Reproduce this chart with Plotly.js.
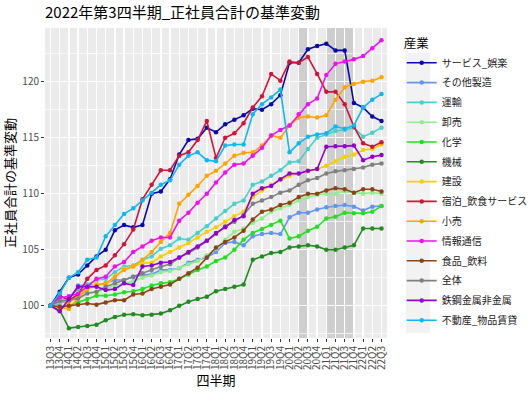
<!DOCTYPE html>
<html>
<head>
<meta charset="utf-8">
<script src="https://cdn.plot.ly/plotly-3.0.1.min.js"></script>
<style>
html,body{margin:0;padding:0;background:#fff;}
#chart{width:528px;height:396px;}
</style>
</head>
<body>
<div id="chart"></div>
<script>
// ---- data ----
const quarters = ["13Q3","13Q4","14Q1","14Q2","14Q3","14Q4","15Q1","15Q2","15Q3","15Q4",
  "16Q1","16Q2","16Q3","16Q4","17Q1","17Q2","17Q3","17Q4","18Q1","18Q2","18Q3","18Q4",
  "19Q1","19Q2","19Q3","19Q4","20Q1","20Q2","20Q3","20Q4","21Q1","21Q2","21Q3","21Q4",
  "22Q1","22Q2","22Q3"];

const seriesNames = ["サービス_娯楽","その他製造","運輸","卸売","化学","機械","建設",
  "宿泊_飲食サービス","小売","情報通信","食品_飲料","全体","鉄鋼金属非金属","不動産_物品賃貸"];

const service = [100,101.25,102.5,102.8,103.6,104.4,105.0,106.75,107.2,107.0,107.2,110.0,110.2,111.3,113.5,114.8,114.9,115.9,115.5,116.2,116.6,117.0,117.6,117.5,118.0,118.8,121.7,121.7,122.9,123.2,123.4,122.8,122.8,118.1,117.7,116.9,116.5];
const otherMfg = [100,100.2,100.5,101.8,101.85,101.85,102.0,102.3,102.3,102.6,102.75,102.8,103.2,103.2,103.35,103.85,104.1,104.3,104.8,105.6,105.7,105.4,106.2,106.4,106.5,106.4,107.9,108.3,108.3,108.6,108.8,108.9,109.0,108.85,108.5,108.85,108.9];
const transport = [100,100.4,100.8,101.5,101.9,102.3,102.4,103.0,103.5,103.6,104.1,104.4,105.1,105.4,106.0,105.9,106.5,107.1,107.8,108.45,109.1,109.4,110.8,111.1,111.6,112.1,112.8,112.9,114.0,115.0,115.3,115.6,115.7,115.9,115.1,115.45,115.9];
const wholesale = [100,100.3,100.5,100.9,101.2,101.2,101.5,101.8,102.0,102.2,102.5,102.7,103.0,103.1,103.4,103.7,104.0,104.5,105.1,105.9,106.6,106.9,107.4,107.8,108.4,108.7,109.0,109.4,109.7,109.9,110.0,110.0,110.2,110.1,110.0,110.1,110.0];
const chemical = [100,99.9,100.0,100.3,100.6,100.9,100.9,101.0,101.2,101.3,101.5,101.8,102.0,102.1,102.4,102.8,103.2,103.5,104.0,104.3,105.0,105.9,106.5,106.85,107.2,107.6,106.0,106.2,106.7,107.05,107.8,107.95,108.3,108.25,108.25,108.4,108.9];
const machinery = [100,99.6,98.0,98.1,98.2,98.3,98.7,99.0,99.2,99.25,99.15,99.2,99.3,99.6,100.0,100.35,100.6,100.8,101.3,101.5,101.7,101.9,104.1,104.4,104.7,104.8,105.2,105.3,105.4,105.3,105.0,105.0,105.2,105.4,106.9,106.9,106.9];
const construction = [100,99.8,100.2,101.0,101.5,102.0,101.85,102.6,103.3,103.5,103.8,103.85,104.4,104.8,105.2,105.6,106.1,106.6,107.0,107.5,108.0,108.4,109.7,110.3,110.8,111.2,111.6,111.8,112.0,112.2,112.5,112.9,113.3,113.5,113.9,114.0,114.4];
const lodging = [100,100.9,100.5,101.0,102.4,103.2,103.6,104.5,105.5,106.8,109.5,110.8,112.1,112.1,113.4,113.7,114.8,116.5,113.2,115.0,115.4,116.3,117.7,118.7,120.7,120.1,121.8,121.7,122.2,120.7,119.1,119.1,118.0,116.0,114.5,114.2,114.6];
const retail = [100,99.9,99.7,100.7,101.5,101.8,102.0,102.6,103.2,103.5,104.1,104.8,105.7,106.5,109.1,109.9,110.7,111.6,112.05,112.7,113.4,113.65,113.7,114.3,115.2,115.0,116.1,116.8,116.9,116.8,117.0,118.4,119.5,119.8,120.0,120.1,120.4];
const infoComm = [100,100.7,100.85,101.1,101.7,102.4,102.6,103.5,103.9,104.8,105.3,105.8,106.1,106.1,107.6,108.3,109.2,110.0,111.0,111.9,112.6,112.7,113.4,114.1,115.2,115.7,116.1,117.1,118.0,118.5,120.6,121.6,121.8,122.0,122.3,123.0,123.7];
const food = [100,99.9,100.0,100.1,100.2,100.1,100.3,100.5,100.5,101.0,101.1,101.5,101.7,101.9,102.4,102.9,103.4,104.3,105.2,105.7,106.1,106.7,107.7,108.4,108.6,109.0,109.2,109.7,110.0,110.0,110.3,110.5,110.4,110.1,110.4,110.4,110.2];
const total = [100,100.4,100.5,100.65,101.1,101.25,101.7,102.0,102.3,102.6,102.9,103.2,103.5,103.7,104.3,104.7,105.2,105.8,106.4,107.1,107.5,108.1,109.1,109.4,109.7,110.1,110.3,110.8,111.2,111.4,111.8,112.0,112.1,112.2,112.35,112.6,112.7];
const steel = [100,99.5,100.6,101.7,101.7,101.7,101.4,101.5,102.0,101.85,103.5,103.6,103.85,103.9,104.3,104.8,105.3,105.8,106.5,107.0,107.65,108.0,110.0,110.5,110.7,111.3,111.8,111.8,112.05,112.2,114.2,114.25,114.25,114.3,113.0,113.3,113.45];
const realEstate = [100,101.1,102.5,103.0,104.1,104.3,106.2,107.2,108.2,108.7,109.4,110.1,110.8,111.2,112.6,113.4,113.7,113.0,112.9,114.3,114.4,114.4,117.1,118.0,118.6,119.3,113.7,114.5,115.1,115.3,115.4,116.0,115.8,116.1,117.7,118.4,118.9];

const yTicks = [100,105,110,115,120];
const yMinorTicks = [97.5,102.5,107.5,112.5,117.5,122.5];
const shadeStart = ["20Q2","21Q1"];
const shadeEnd = ["20Q3","21Q4"];

// ---- styles ----
const allSeries = [service,otherMfg,transport,wholesale,chemical,machinery,construction,
  lodging,retail,infoComm,food,total,steel,realEstate];
const colors = ["#0A0AA8","#6495ED","#48D1CC","#90EE90","#22E022","#228B22","#F5D000",
  "#D0143C","#FFA500","#F010F0","#8B4513","#808080","#9400D3","#10B8F0"];
const FONT = "Noto Sans CJK JP, sans-serif";

const traces = allSeries.map((vals,k)=>({
  type:"scatter", mode:"lines+markers",
  x: quarters, y: vals, name: seriesNames[k], legendgroup: "g"+k,
  line:{color:colors[k], width:1.6},
  marker:{color:colors[k], size:4.5}
}));

const shapes = shadeStart.map((s,k)=>({
  type:"rect", xref:"x", yref:"paper",
  x0: quarters.indexOf(s), x1: quarters.indexOf(shadeEnd[k]),
  y0:0, y1:1, fillcolor:"rgba(0,0,0,0.12)", line:{width:0}, layer:"between"
}));
// light key background column behind the legend symbols (ggplot legend keys)
shapes.push({type:"rect", xref:"paper", yref:"paper",
  x0:(406-45)/342, x1:(430-45)/342, y0:(338-333)/310, y1:(338-53)/310,
  fillcolor:"#F2F2F2", line:{width:0}, layer:"below"});

const layout = {
  width:528, height:396,
  font:{family:FONT, color:"#1a1a1a"},
  paper_bgcolor:"#ffffff", plot_bgcolor:"#EBEBEB",
  margin:{l:45, r:141, t:28, b:58, pad:0, autoexpand:false},
  title:{text:"2022年第3四半期_正社員合計の基準変動", font:{size:15, family:FONT, color:"#000"},
    xref:"container", x:45/528, xanchor:"left", yref:"container", y:1-7/396, yanchor:"top"},
  xaxis:{type:"category", categoryorder:"array", categoryarray:quarters,
    tickmode:"array", tickvals:quarters, ticktext:quarters,
    range:[-0.6, quarters.length-1+0.6], showgrid:true, gridcolor:"#ffffff", gridwidth:1.4,
    zeroline:false, showline:false, ticks:"outside", ticklen:3, tickcolor:"#333333", tickwidth:1,
    tickangle:-90, tickfont:{size:10, color:"#4D4D4D", family:FONT},
    title:{text:"四半期", font:{size:13, color:"#000", family:FONT}, standoff:3}},
  yaxis:{range:[97.12, 124.8], tickvals:yTicks, ticktext:yTicks.map(String),
    showgrid:true, gridcolor:"#ffffff", gridwidth:1.4, zeroline:false, showline:false,
    ticks:"outside", ticklen:3, tickcolor:"#333333", tickwidth:1,
    tickfont:{size:10, color:"#4D4D4D", family:FONT},
    minor:{tickvals:yMinorTicks, showgrid:true, gridcolor:"#ffffff", gridwidth:0.7, ticks:""},
    title:{text:"正社員合計の基準変動", font:{size:13, color:"#000", family:FONT}, standoff:6}},
  legend:{x:1.043, xanchor:"left", y:0.987, yanchor:"top", bgcolor:"rgba(0,0,0,0)",
    traceorder:"grouped", tracegroupgap:0.8,
    font:{size:10, family:FONT, color:"#1a1a1a"},
    title:{text:"産業", font:{size:12.5, family:FONT, color:"#000"}}},
  shapes:shapes,
  showlegend:true
};

Plotly.newPlot("chart", traces, layout, {displayModeBar:false, staticPlot:true});
</script>
</body>
</html>
